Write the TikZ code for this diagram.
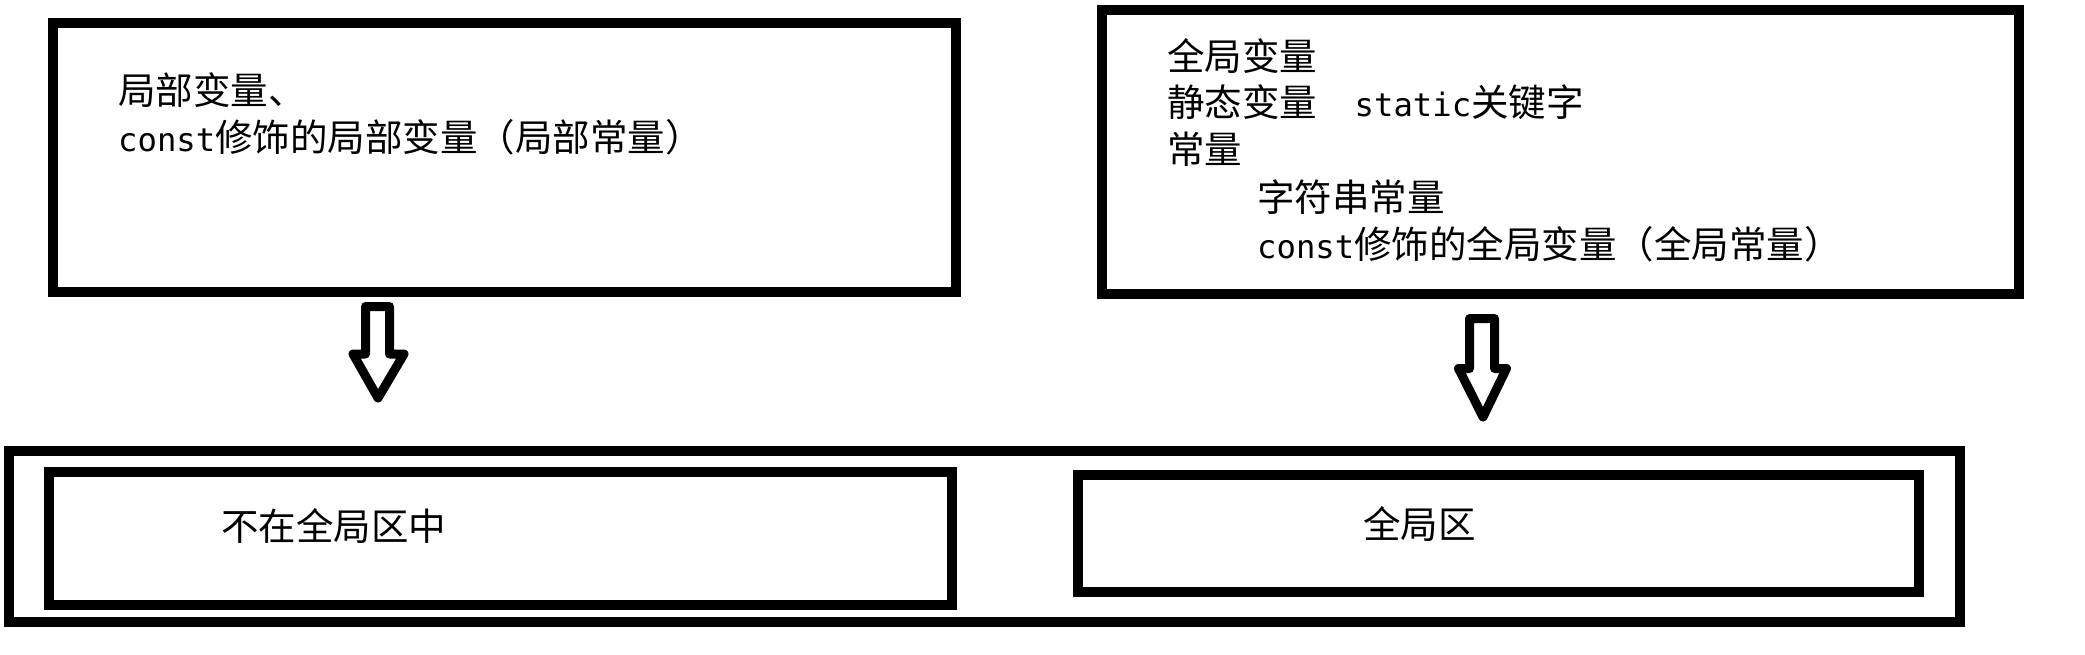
\documentclass[tikz,border=0pt]{standalone}
\usepackage{fontspec}
\setmainfont{Noto Sans CJK SC}
\newfontfamily\latmono[Scale=0.86]{DejaVu Sans Mono}
\newcommand{\lat}[1]{{\latmono #1}}
\begin{document}
\begin{tikzpicture}[x=1pt,y=-1pt,
  box/.style={draw=black, line width=10pt, rectangle, inner sep=0pt, outer sep=0pt, fill=none},
  txt/.style={anchor=west, inner sep=0pt, font=\fontsize{37.5}{44}\selectfont},
  blockarrow/.style={draw=black, line width=9pt, line join=round, fill=white}]
\useasboundingbox (0,0) rectangle (2085,654);
% top boxes
\node[box, minimum width=903pt, minimum height=269pt] (local) at (504.5,157.5) {};
\node[box, minimum width=917pt, minimum height=284pt] (global) at (1560.5,152) {};
% bottom boxes
\node[box, minimum width=1951pt, minimum height=171pt] (memory) at (984.5,536.5) {};
\node[box, minimum width=903pt, minimum height=133pt] (notglobal) at (500.5,538.5) {};
\node[box, minimum width=841pt, minimum height=117pt] (globalarea) at (1498.5,533.5) {};
% texts
\node[txt] (l1) at (118,90) {局部变量、};
\node[txt] (l2) at (118,137.5) {\lat{const}修饰的局部变量（局部常量）};
\node[txt] (g1) at (1167,56) {全局变量};
\node[txt] (g2) at (1167,102.5) {静态变量\hspace{1em}\lat{static}关键字};
\node[txt] (g3) at (1167,149) {常量};
\node[txt] (g4) at (1257,197.5) {字符串常量};
\node[txt] (g5) at (1257,244) {\lat{const}修饰的全局变量（全局常量）};
\node[txt] (n1) at (221,526.5) {不在全局区中};
\node[txt] (n2) at (1363,524) {全局区};
% block arrows
\coordinate (a1) at (378,306.5);
\coordinate (a2) at (1482,318.5);
\draw[blockarrow] ([xshift=-12.5pt]a1) -- ([xshift=11.5pt]a1) -- ([xshift=11.5pt,yshift=-47.5pt]a1)
  -- ([xshift=26pt,yshift=-47.5pt]a1) -- ([yshift=-91.5pt]a1) -- ([xshift=-25pt,yshift=-47.5pt]a1)
  -- ([xshift=-12.5pt,yshift=-47.5pt]a1) -- cycle;
\draw[blockarrow] ([xshift=-12.5pt]a2) -- ([xshift=12.5pt]a2) -- ([xshift=12.5pt,yshift=-50pt]a2)
  -- ([xshift=24.5pt,yshift=-50pt]a2) -- ([xshift=1pt,yshift=-98.5pt]a2) -- ([xshift=-23.5pt,yshift=-50pt]a2)
  -- ([xshift=-12.5pt,yshift=-50pt]a2) -- cycle;
\end{tikzpicture}
\end{document}
